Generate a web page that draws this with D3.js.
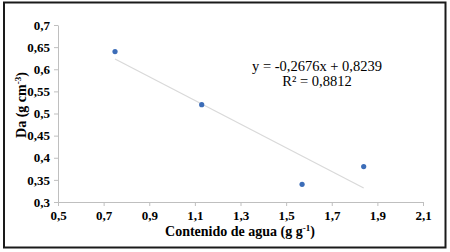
<!DOCTYPE html>
<html>
<head>
<meta charset="utf-8">
<script src="https://cdn.jsdelivr.net/npm/d3@7"></script>
<style>
  body { margin: 0; background: #fff; }
  svg { display: block; }
</style>
</head>
<body>
<div id="chart"></div>
<script>
// datos
let aguaX = [0.75, 1.13, 1.57, 1.84];
let daY = [0.64, 0.52, 0.34, 0.38];
let xTicks = [0.5, 0.7, 0.9, 1.1, 1.3, 1.5, 1.7, 1.9, 2.1];
let yTicks = [0.3, 0.35, 0.4, 0.45, 0.5, 0.55, 0.6, 0.65, 0.7];
let trendSlope = -0.2676;
let trendIntercept = 0.8239;
let eqLines = ['y = -0,2676x + 0,8239', 'R² = 0,8812'];

let FONT = 'Liberation Serif';
let W = 450, H = 252;
let svg = d3.select('#chart').append('svg').attr('width', W).attr('height', H)
    .attr('font-family', FONT);

//marco
svg.append('rect')
    .attr('x', 4).attr('y', 2.5)
    .attr('width', 441.5).attr('height', 245)
    .attr('fill', 'none')
    .attr('stroke', '#1a1a1a')
    .attr('stroke-width', 2);

let xScale = d3.scaleLinear().domain([0.5, 2.1]).range([58, 423]);
let yScale = d3.scaleLinear().domain([0.3, 0.7]).range([202, 25]);
let fmt = d => String(+d.toFixed(2)).replace('.', ',');

//ejes
let xAxis = svg.append('g')
    .attr('transform', 'translate(0,' + yScale(0.3) + ')')
    .call(d3.axisBottom(xScale).tickValues(xTicks).tickSize(4).tickFormat(fmt).tickSizeOuter(0));
let yAxis = svg.append('g')
    .attr('transform', 'translate(' + xScale(0.5) + ',0)')
    .call(d3.axisLeft(yScale).tickValues(yTicks).tickSize(4).tickFormat(fmt).tickSizeOuter(0));

[xAxis, yAxis].forEach(a => {
    a.attr('font-family', FONT).attr('font-size', 13);
    a.select('.domain').attr('stroke', '#bfbfbf');
    a.selectAll('.tick line').attr('stroke', '#bfbfbf');
    a.selectAll('.tick text')
        .attr('fill', '#000')
        .attr('font-weight', 'bold');
});
xAxis.selectAll('.tick text').attr('dy', '0.71em').attr('y', 9);
yAxis.selectAll('.tick text').attr('x', -8);

//linea de tendencia
let x0 = d3.min(aguaX), x1 = d3.max(aguaX);
svg.append('line')
    .attr('x1', xScale(x0)).attr('y1', yScale(trendSlope * x0 + trendIntercept))
    .attr('x2', xScale(x1)).attr('y2', yScale(trendSlope * x1 + trendIntercept))
    .attr('stroke', '#d9d9d9')
    .attr('stroke-width', 1.2);

//puntos
svg.append('g').selectAll('circle')
    .data(aguaX)
    .enter()
    .append('circle')
    .attr('cx', d => xScale(d))
    .attr('cy', (d, i) => yScale(daY[i]))
    .attr('r', 2.6)
    .attr('fill', '#3c6db8');

//ecuacion
svg.append('g').selectAll('text')
    .data(eqLines)
    .enter()
    .append('text')
    .attr('x', 317)
    .attr('y', (d, i) => 71 + i * 15)
    .attr('text-anchor', 'middle')
    .attr('font-size', 14.5)
    .text(d => d);

//titulos
let xt = svg.append('text')
    .attr('x', 240).attr('y', 236)
    .attr('text-anchor', 'middle')
    .attr('font-size', 14)
    .attr('font-weight', 'bold')
    .text('Contenido de agua (g g');
xt.append('tspan').attr('dy', -5).attr('font-size', 9).text('-1');
xt.append('tspan').attr('dy', 5).text(')');

let yt = svg.append('text')
    .attr('transform', 'translate(26,105) rotate(-90)')
    .attr('text-anchor', 'middle')
    .attr('font-size', 14)
    .attr('font-weight', 'bold')
    .text('Da (g cm');
yt.append('tspan').attr('dy', -5).attr('font-size', 9).text('-3');
yt.append('tspan').attr('dy', 5).text(')');
</script>
</body>
</html>
